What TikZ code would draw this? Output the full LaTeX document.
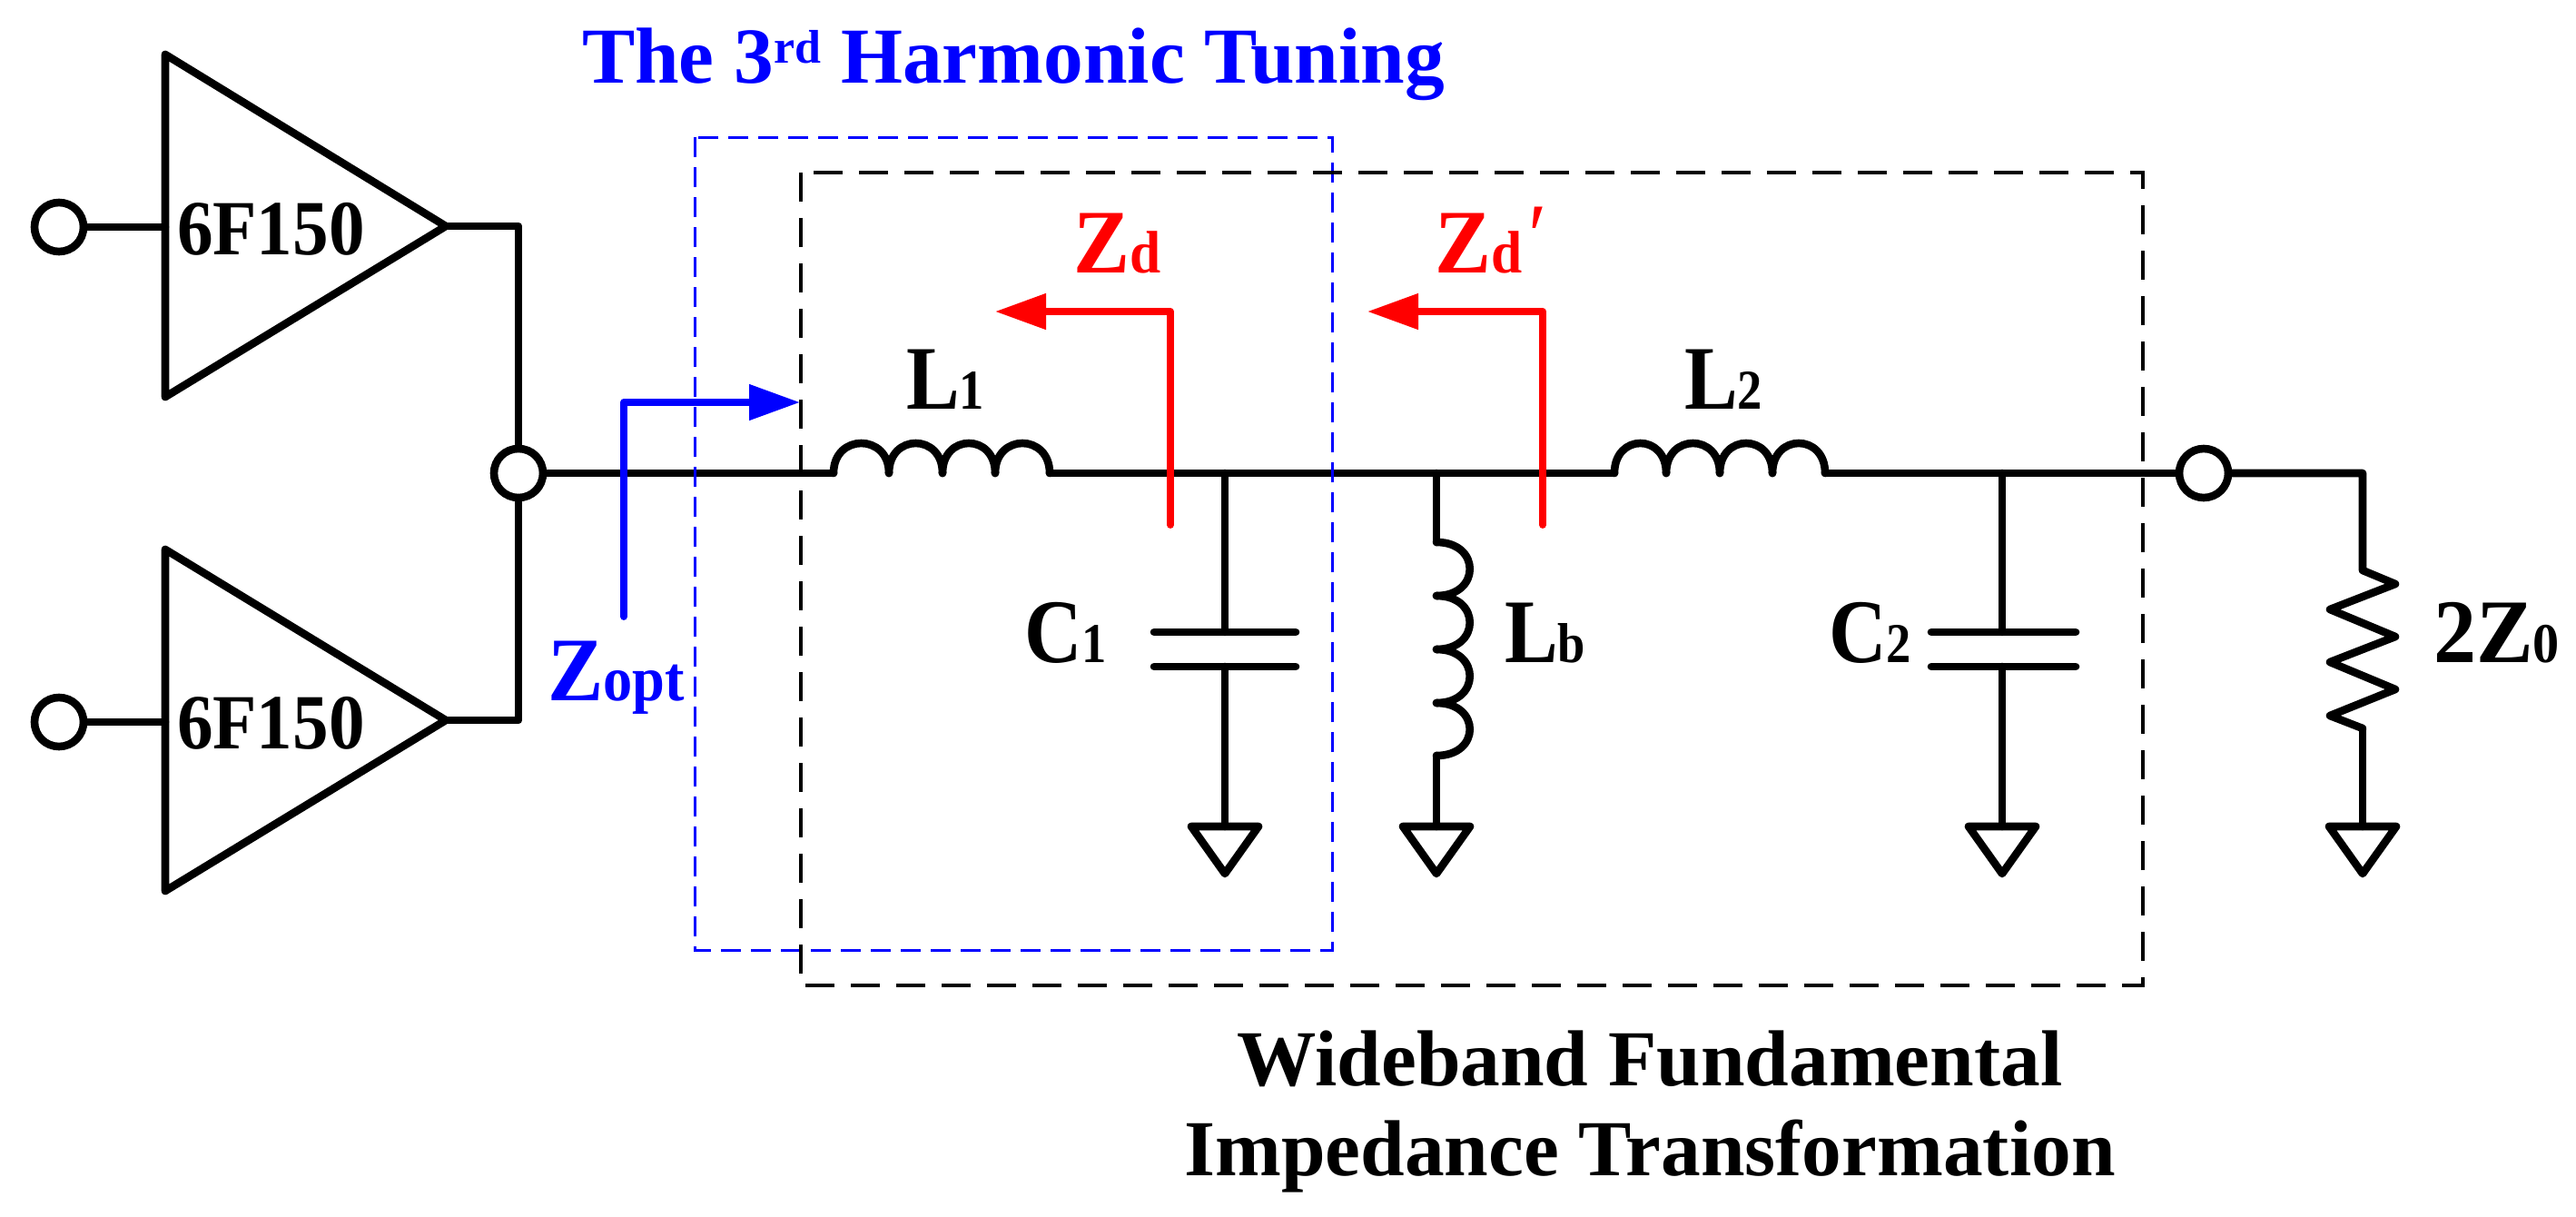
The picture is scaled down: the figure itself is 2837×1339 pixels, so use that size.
\documentclass[tikz,border=0pt]{standalone}
\usepackage{graphicx}
\usepackage{fontspec}
\setmainfont{Liberation Serif}
\usetikzlibrary{arrows.meta}
\definecolor{myblue}{RGB}{0,0,255}
\definecolor{myred}{RGB}{255,0,0}
\newcommand\bigsz{\fontsize{50}{60}\selectfont}
\newcommand\subsz{\fontsize{31}{36}\selectfont}
\newcommand\subbig{\fontsize{35}{40}\selectfont}
\newcommand\gnd[2]{\coordinate (#1) at (#2,910);
  \draw[wire] (#2-37,910) -- (#2+37,910) -- (#2,962) -- cycle;}
\tikzset{
  wire/.style={draw=black,line width=4.3pt,line cap=round,line join=round},
  term/.style={circle,draw=black,line width=4.3pt,minimum size=27pt,inner sep=0pt,outer sep=0pt},
  lab/.style={inner sep=0pt,outer sep=0pt,anchor=base west,font=\bfseries},
  blueframe/.style={draw=myblue,line width=1.5pt,dash pattern=on 11pt off 5.5pt},
  blackframe/.style={draw=black,line width=2.3pt,dash pattern=on 16pt off 9pt},
  bluearrow/.style={draw=myblue,line width=3.9pt,line cap=round,line join=round,
    -{Triangle[length=28pt,width=19pt,fill=myblue]}},
  redarrow/.style={draw=myred,line width=3.9pt,line cap=round,line join=round,
    -{Triangle[length=28pt,width=19pt,fill=myred]}}
}
\begin{document}
\begin{tikzpicture}[x=0.5pt,y=-0.5pt]
\useasboundingbox (0,0) rectangle (2837,1339);
% terminals
\node[term] (In1) at (65,250) {};
\node[term] (In2) at (65,795) {};
\node[term] (J) at (571,521) {};
\node[term] (Out) at (2427,521) {};
% amplifiers
\coordinate (A1i) at (182,250); \coordinate (A1o) at (491,249); \coordinate (A1c) at (571,249);
\coordinate (A2i) at (182,795); \coordinate (A2o) at (491,793); \coordinate (A2c) at (571,793);
\draw[wire] (182,60) -- (A1o) -- (182,437) -- cycle;
\draw[wire] (182,605) -- (A2o) -- (182,981) -- cycle;
\node[lab] (amp1) at (195,280) {\scalebox{.92}[1]{\fontsize{43}{50}\selectfont 6F150}};
\node[lab] (amp2) at (195,824) {\scalebox{.92}[1]{\fontsize{43}{50}\selectfont 6F150}};
\draw[wire] (In1) -- (A1i);
\draw[wire] (In2) -- (A2i);
\draw[wire] (A1o) -- (A1c) -- (J);
\draw[wire] (A2o) -- (A2c) -- (J);
% series inductors
\coordinate (L1a) at (918,521); \coordinate (L1b) at (1156,521);
\coordinate (L2a) at (1778,521); \coordinate (L2b) at (2010,521);
\foreach \a/\b in {918/979,979/1038,1038/1096,1096/1156,1778/1835,1835/1894,1894/1952,1952/2010}
  \draw[wire] (\a,521) .. controls (\a,477) and (\b,477) .. (\b,521);
\draw[wire] (J) -- (L1a);
\draw[wire] (L1b) -- (L2a);
\draw[wire] (L2b) -- (Out);
% C1
\coordinate (C1t) at (1349,521); \coordinate (C1p) at (1349,696); \coordinate (C1q) at (1349,734);
\draw[wire] (C1t) -- (C1p);
\draw[wire] (1271,696) -- (1427,696);
\draw[wire] (1271,734) -- (1427,734);
\gnd{G1}{1349}
\draw[wire] (C1q) -- (G1);
% Lb
\coordinate (Lbt) at (1582,521); \coordinate (Lba) at (1582,597); \coordinate (Lbb) at (1582,832);
\draw[wire] (Lbt) -- (Lba);
\foreach \a/\b in {597/656,656/715,715/774,774/832}
  \draw[wire] (1582,\a) .. controls (1631,\a) and (1631,\b) .. (1582,\b);
\gnd{G2}{1582}
\draw[wire] (Lbb) -- (G2);
% C2
\coordinate (C2t) at (2205,521); \coordinate (C2p) at (2205,696); \coordinate (C2q) at (2205,734);
\draw[wire] (C2t) -- (C2p);
\draw[wire] (2127,696) -- (2286,696);
\draw[wire] (2127,734) -- (2286,734);
\gnd{G3}{2205}
\draw[wire] (C2q) -- (G3);
% load
\coordinate (Rc) at (2602,521); \coordinate (Ra) at (2602,628); \coordinate (Rb) at (2602,802);
\draw[wire] (Out) -- (Rc) -- (Ra) -- (2638,643) -- (2566,671) -- (2638,701) -- (2566,729) -- (2638,759) -- (2566,788) -- (Rb);
\gnd{G4}{2602}
\draw[wire] (Rb) -- (G4);
% frames
\draw[blueframe] (765,151) rectangle (1467,1046);
\draw[blackframe] (882,190) rectangle (2360,1085);
% impedance arrows
\coordinate (Ba) at (687,679); \coordinate (Bc) at (687,443); \coordinate (Bt) at (881,443);
\draw[bluearrow] (Ba) -- (Bc) -- (Bt);
\coordinate (Ra1) at (1289,578); \coordinate (Rc1) at (1289,343); \coordinate (Rt1) at (1096,343);
\draw[redarrow] (Ra1) -- (Rc1) -- (Rt1);
\coordinate (Ra2) at (1699,578); \coordinate (Rc2) at (1699,343); \coordinate (Rt2) at (1506,343);
\draw[redarrow] (Ra2) -- (Rc2) -- (Rt2);
% labels
\node[lab,text=myblue] (title) at (641,91.5) {\fontsize{43.7}{50}\selectfont The 3\raisebox{11pt}{\fontsize{26}{30}\selectfont rd} Harmonic Tuning};
\node[lab,text=myblue] (zopt) at (603,771.5) {\scalebox{.92}[1]{\bigsz Z\subbig opt}};
\node[lab,text=myred] (zd) at (1182,300) {\scalebox{.93}[1]{\bigsz Z\fontsize{33}{38}\selectfont d}};
\node[lab,text=myred] (zdp) at (1580,300) {\scalebox{.93}[1]{\bigsz Z\fontsize{33}{38}\selectfont d\kern4pt\raisebox{3.5pt}{\bigsz\mdseries ′}}};
\node[lab] (l1) at (998,450) {\scalebox{.88}[1]{\bigsz L\subsz 1}};
\node[lab] (l2) at (1855,450) {\scalebox{.88}[1]{\bigsz L\subsz 2}};
\node[lab] (c1) at (1128,729) {\scalebox{.88}[1]{\bigsz C\subsz 1}};
\node[lab] (lb) at (1657,729) {\scalebox{.88}[1]{\bigsz L\subsz b}};
\node[lab] (c2) at (2014,729) {\scalebox{.88}[1]{\bigsz C\subsz 2}};
\node[lab] (z0) at (2680,729) {\scalebox{.94}[1]{\bigsz 2Z\subsz 0}};
\node[lab,anchor=base] (wb1) at (1817,1195) {\fontsize{43.7}{50}\selectfont Wideband Fundamental};
\node[lab,anchor=base] (wb2) at (1817,1294.5) {\fontsize{43.7}{50}\selectfont Impedance Transformation};
\end{tikzpicture}
\end{document}
